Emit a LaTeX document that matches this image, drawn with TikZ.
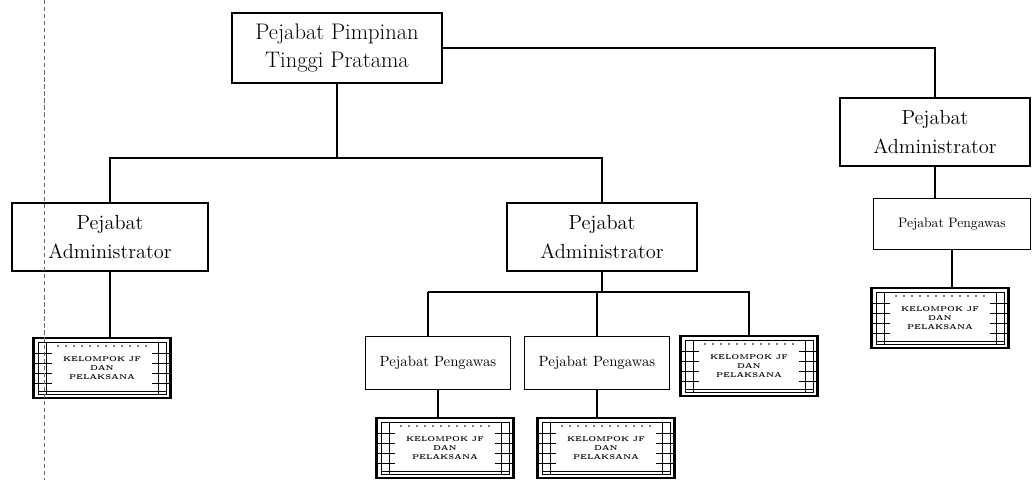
\documentclass[tikz,border=0pt]{standalone}
\usepackage[svgnames]{xcolor}
\usepackage{tikz}
\colorlet{boxLine}{Black}
\colorlet{foldLine}{DimGray}

\begin{document}
\begin{tikzpicture}[
  x=0.025cm, y=-0.025cm,
  every node/.style={
    align=center,
    inner sep=2pt,
  },
  pimpinan/.style={
    draw=boxLine, line width=1.4pt,
    minimum width=5.27cm, minimum height=1.75cm,
    font=\fontsize{16}{20.5}\selectfont,
  },
  admin/.style={
    draw=boxLine, line width=1.4pt,
    minimum width=4.8cm, minimum height=1.72cm,
    font=\fontsize{14.5}{20}\selectfont,
  },
  pengawas/.style={
    draw=boxLine, line width=0.7pt,
    minimum width=3.6cm, minimum height=1.32cm,
    font=\fontsize{10.5}{13}\selectfont,
  },
  kelompok/.style={
    draw=boxLine, line width=1.8pt,
    minimum width=3.42cm, minimum height=1.5cm,
    font=\fontsize{5}{6.2}\selectfont\bfseries,
  },
  link/.style={
    draw=boxLine, line width=1pt,
  },
]
\useasboundingbox (0,0) rectangle (1034,480);

% boxes
\node[pimpinan] (top) at (337,48) {Pejabat Pimpinan\\Tinggi Pratama};
\node[admin, minimum width=4.75cm, minimum height=1.68cm] (radm) at (935,132) {Pejabat\\Administrator};
\node[admin, minimum width=4.88cm] (ladm) at (110,237) {Pejabat\\Administrator};
\node[admin, minimum width=4.75cm] (madm) at (602,237) {Pejabat\\Administrator};
\node[pengawas] (peng1) at (438,363) {Pejabat Pengawas};
\node[pengawas] (peng2) at (597,363) {Pejabat Pengawas};
\node[pengawas, minimum width=3.9cm, minimum height=1.28cm,
  font=\fontsize{9.7}{12}\selectfont] (peng3) at (952,224) {Pejabat Pengawas};
\foreach \n/\x/\y in {a/102/368, b/749/366, c/445/448, d/606/448, e/940/318} {
  \node[kelompok] (kel\n) at (\x,\y) {KELOMPOK JF\\DAN\\PELAKSANA};
  % inner frame of the group boxes
  \begin{scope}[shift={(kel\n.center)}, draw=boxLine, line width=0.5pt]
    \draw (-64,-26) rectangle (64,26);
    \foreach \s in {-1,1} {
      \draw (\s*56,-26) -- (\s*56,26);
      \foreach \h in {-15,-5,5,15}
        \draw (\s*67,\h) -- (\s*50,\h);
    }
    \foreach \d in {-44,-36,...,44}
      \fill (\d,-22) circle (0.6pt);
    \draw (-64,23) -- (64,23);
  \end{scope}
}

% connectors
\coordinate (busA) at (116,158);
\coordinate (busB) at (428,292);
\draw[link] (top.east) -| (radm.north);
\draw[link] (top.south) -- (top.south |- busA);
\draw[link] (ladm.north) |- (madm.north |- busA) -- (madm.north);
\draw[link] (ladm.south) -- (ladm.south |- kela.north);
\draw[link] (madm.south) -- (madm.south |- busB);
\draw[link] (busB) -- (peng1.north -| busB);
\draw[link] (busB) -| (kelb.north);
\draw[link] (peng2.north |- busB) -- (peng2.north);
\draw[link] (peng1.south) -- (peng1.south |- kelc.north);
\draw[link] (peng2.south) -- (peng2.south |- keld.north);
\draw[link] (radm.south) -- (radm.south |- peng3.north);
\draw[link] (peng3.south) -- (peng3.south |- kele.north);

% fold line of the scan
\draw[foldLine, line width=0.5pt, densely dashed] (44,0) -- (44,480);
\end{tikzpicture}
\end{document}
